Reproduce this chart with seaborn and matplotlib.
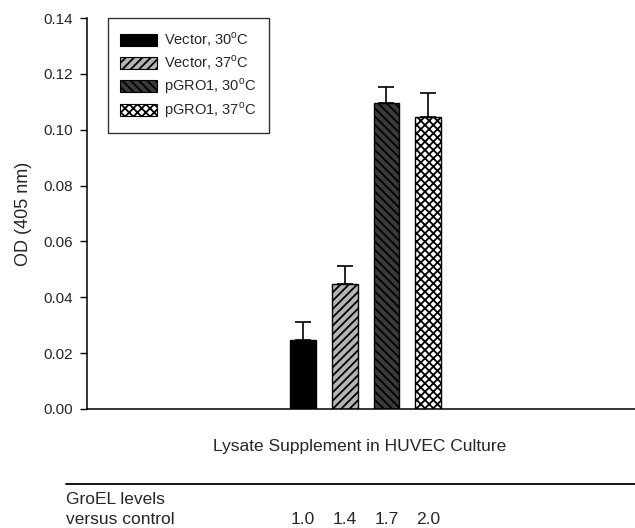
import matplotlib
matplotlib.use("Agg")
import matplotlib.pyplot as plt
from matplotlib.patches import Patch
import seaborn as sns
import pandas as pd

groups = ["Vector, 30$^\\mathregular{o}$C", "Vector, 37$^\\mathregular{o}$C",
          "pGRO1, 30$^\\mathregular{o}$C", "pGRO1, 37$^\\mathregular{o}$C"]
od_means = [0.0247, 0.0446, 0.1097, 0.1046]
od_errors = [0.0064, 0.0067, 0.0055, 0.0085]
groel_levels = ["1.0", "1.4", "1.7", "2.0"]
y_ticks = [0.00, 0.02, 0.04, 0.06, 0.08, 0.10, 0.12, 0.14]

face_colors = ["#000000", "#b4b4b4", "#3a3a3a", "#ffffff"]
hatches = [None, "////", "\\\\\\\\", "xxxx"]

sns.set_theme(style="ticks")
plt.rcParams["font.family"] = ["Liberation Sans", "DejaVu Sans"]
plt.rcParams["hatch.linewidth"] = 1.3

df = pd.DataFrame({"group": groups, "od": od_means})

fig = plt.figure(figsize=(6.35, 5.28), dpi=100)
ax = fig.add_axes([0.137, 0.2254, 0.863, 0.7405])

sns.barplot(data=df, x="group", y="od", hue="group", palette=face_colors,
            width=0.62, edgecolor="black", linewidth=1.0, legend=False, ax=ax,
            errorbar=None)

for patch, h in zip(ax.patches, hatches):
    if h:
        patch.set_hatch(h)

ax.errorbar(range(len(groups)), od_means, yerr=[[0] * 4, od_errors],
            fmt="none", ecolor="black", elinewidth=1.2, capsize=6, capthick=1.2)

ax.set_xlim(-5.18, 7.96)
ax.set_ylim(0, 0.14)
ax.set_yticks(y_ticks)
ax.set_yticklabels([f"{t:.2f}" for t in y_ticks], fontsize=11)
ax.set_xticks([])
ax.set_xlabel("")
ax.set_ylabel("OD (405 nm)", fontsize=13, labelpad=8)
ax.tick_params(axis="y", direction="out", length=5, width=1, color="black", pad=5)
for s in ["top", "right"]:
    ax.spines[s].set_visible(False)
for s in ["left", "bottom"]:
    ax.spines[s].set_linewidth(1.1)
    ax.spines[s].set_color("black")

# legend with hatched swatches
handles = [Patch(facecolor=c, edgecolor="black", hatch=h, linewidth=0.8)
           for c, h in zip(face_colors, hatches)]
leg = ax.legend(handles, groups, loc="upper left", bbox_to_anchor=(0.038, 1.0),
                fontsize=10.5, frameon=True, fancybox=False, edgecolor="black",
                handlelength=2.5, handleheight=0.9, borderpad=0.85,
                labelspacing=0.3, handletextpad=0.5, borderaxespad=0)
leg.get_frame().set_linewidth(1.0)

fig.text(0.567, 1 - 447 / 528, "Lysate Supplement in HUVEC Culture",
         ha="center", va="center", fontsize=12.5)
fig.add_artist(plt.Line2D([66 / 635, 1.0], [1 - 484 / 528] * 2,
                          color="black", linewidth=1.3))
fig.text(66 / 635, 1 - 500 / 528, "GroEL levels", ha="left", va="center",
         fontsize=12.5)
fig.text(66 / 635, 1 - 519 / 528, "versus control", ha="left", va="center",
         fontsize=12.5)
for i, lvl in enumerate(groel_levels):
    xd = ax.transData.transform((i, 0))[0]
    xf = fig.transFigure.inverted().transform((xd, 0))[0]
    fig.text(xf, 1 - 519 / 528, lvl, ha="center", va="center", fontsize=12.5)

fig.savefig("out.png", dpi=100)
